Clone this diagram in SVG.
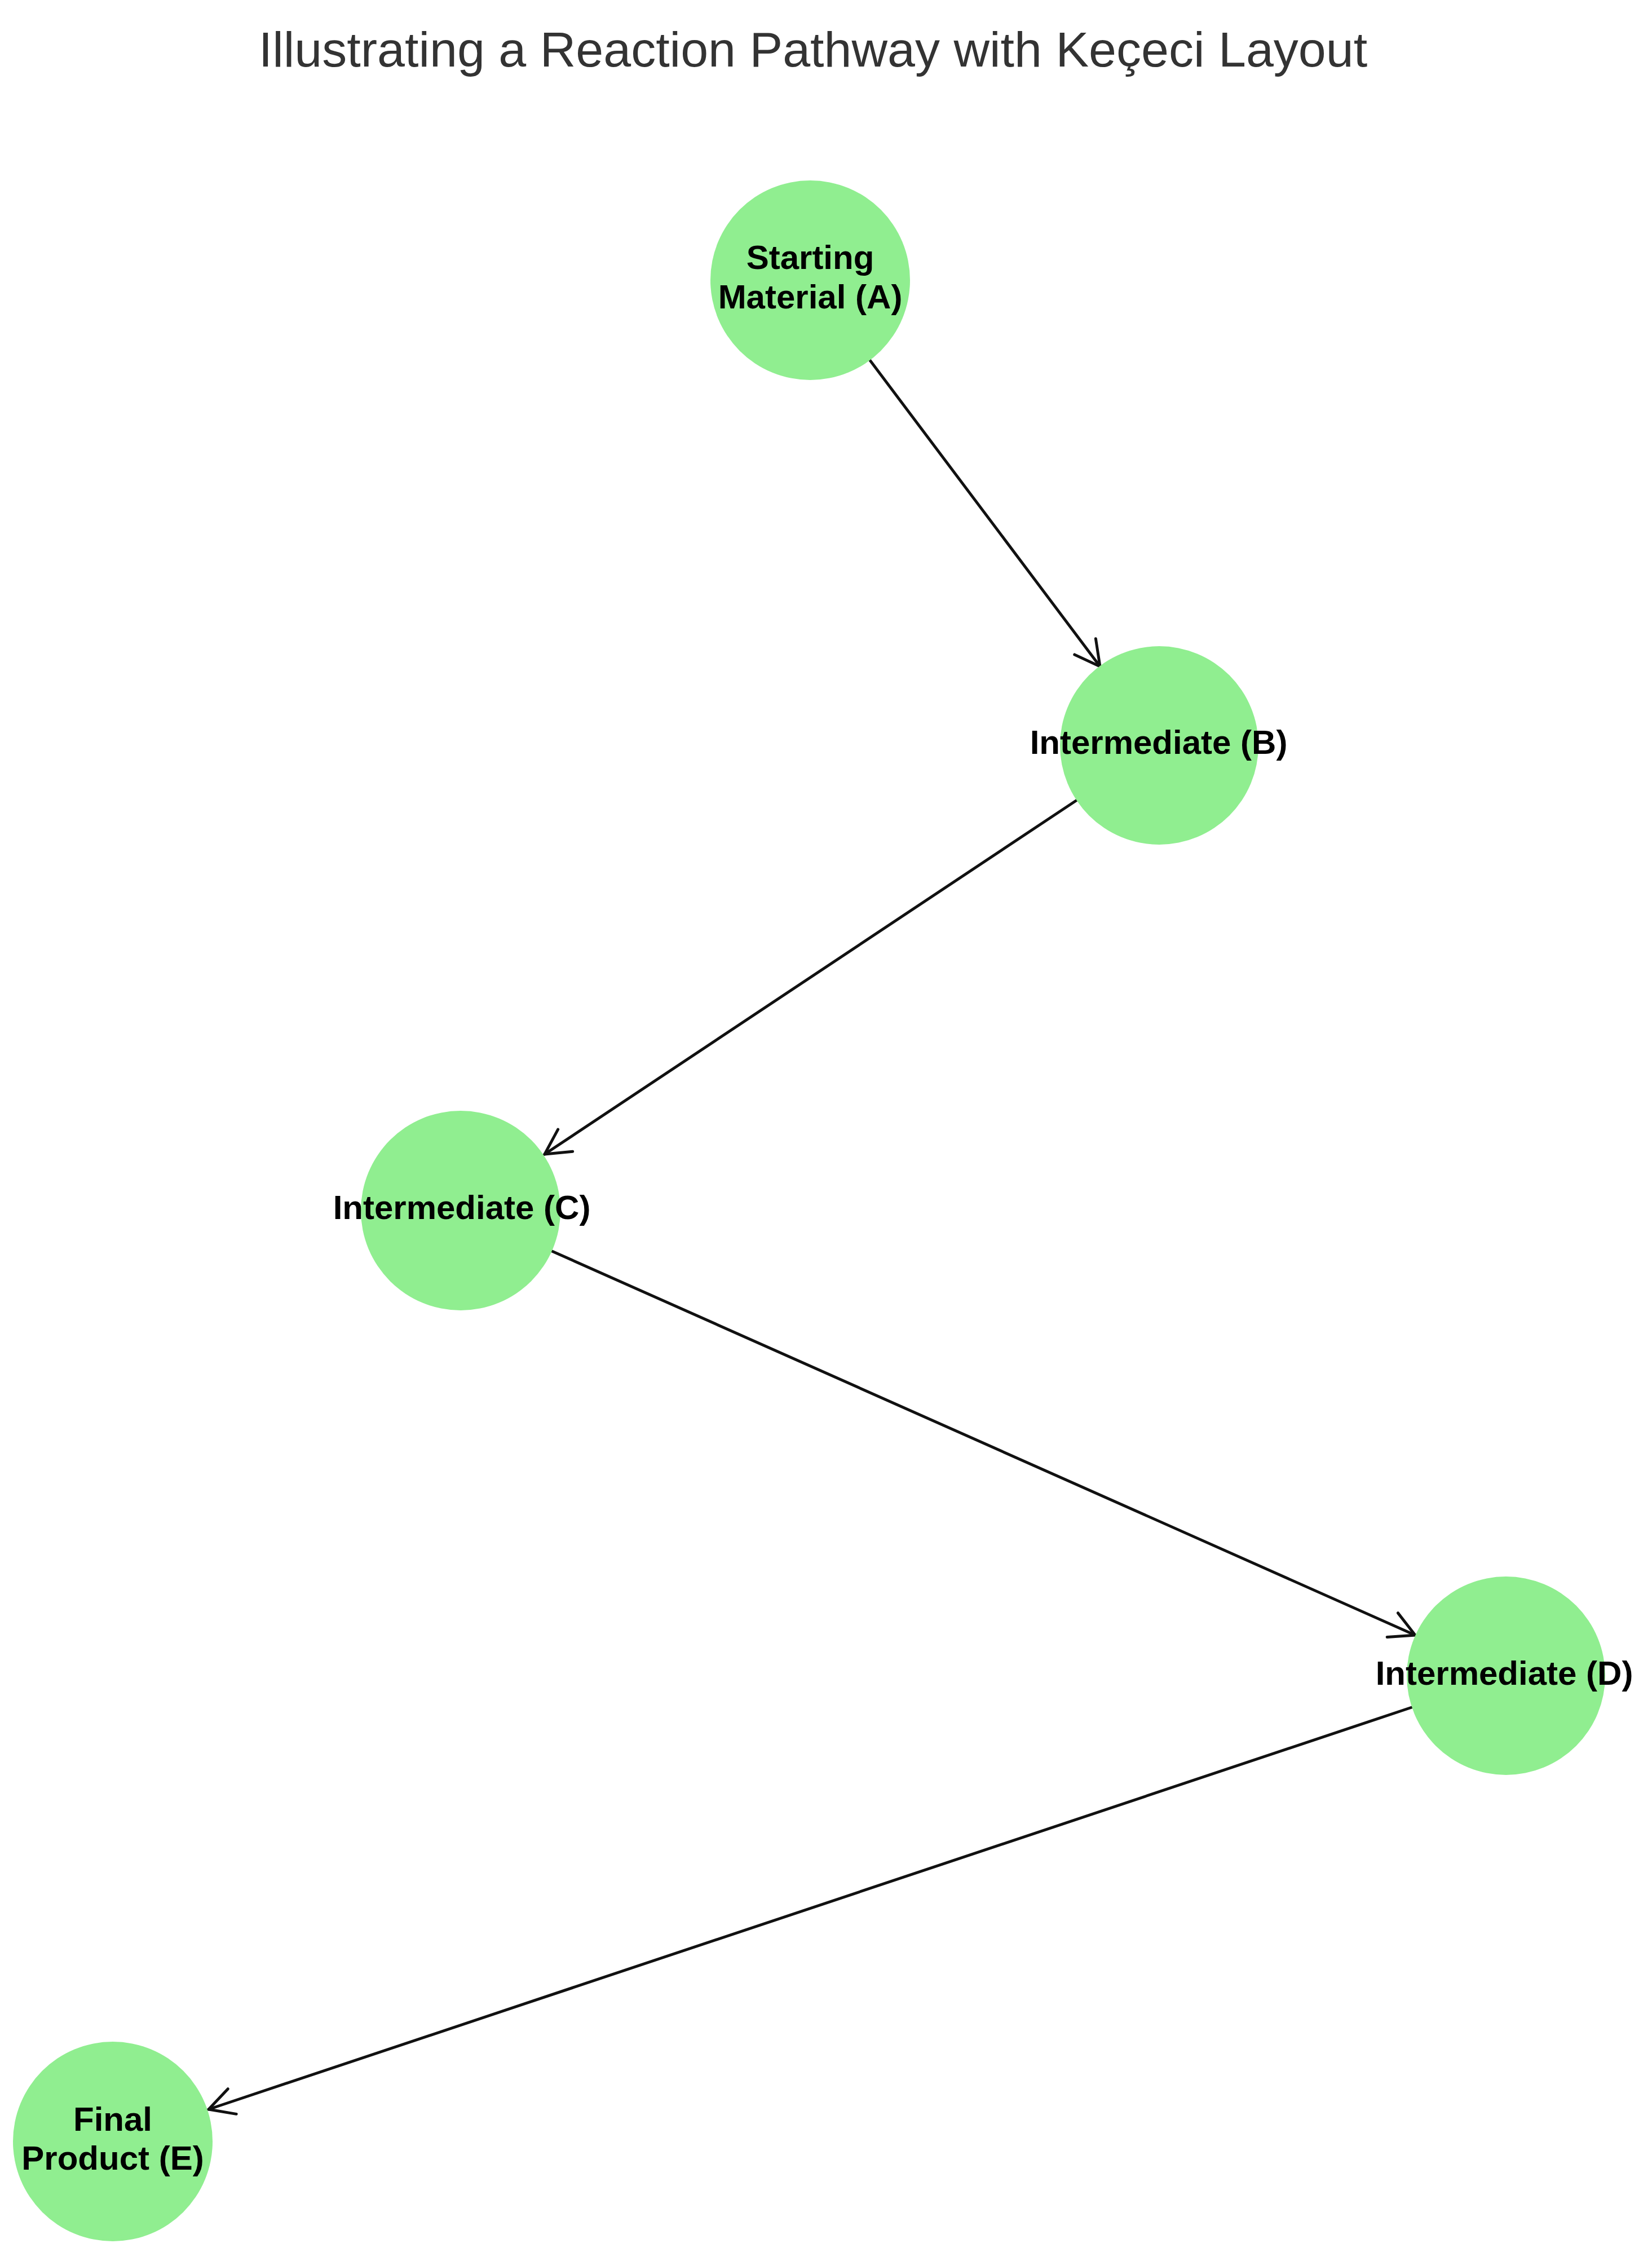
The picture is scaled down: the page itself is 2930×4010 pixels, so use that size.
<svg xmlns="http://www.w3.org/2000/svg" width="2930" height="4010" viewBox="0 0 2930 4010">
  <style>
    .node { fill: #90EE90; }
    .label { font-family: "Liberation Sans", Arial, sans-serif; font-weight: bold; font-size: 60px; fill: #000; text-anchor: middle; }
    .title { font-family: "Liberation Sans", Arial, sans-serif; font-size: 88px; fill: #333333; text-anchor: middle; }
    .edge { stroke: #111; stroke-width: 5; fill: none; stroke-linecap: round; }
  </style>
  <defs>
    <marker id="arrow" markerUnits="userSpaceOnUse" markerWidth="60" markerHeight="60" viewBox="-50 -30 60 60" refX="0" refY="0" orient="auto">
      <path d="M -44,-23.5 L 0,0 L -44,23.5" fill="none" stroke="#111" stroke-width="5" stroke-linecap="round" stroke-linejoin="miter"/>
    </marker>
  </defs>
  <rect width="2930" height="4010" fill="#ffffff"/>
  <text class="title" x="1442" y="118">Illustrating a Reaction Pathway with Keçeci Layout</text>
  <g id="edges">
    <line class="edge" x1="1543" y1="639" x2="1951" y2="1182" marker-end="url(#arrow)"/>
    <line class="edge" x1="1910" y1="1419" x2="966" y2="2047" marker-end="url(#arrow)"/>
    <line class="edge" x1="979" y1="2219" x2="2510" y2="2900" marker-end="url(#arrow)"/>
    <line class="edge" x1="2504" y1="3028" x2="370" y2="3741" marker-end="url(#arrow)"/>
  </g>
  <g id="node-A">
    <circle class="node" cx="1437" cy="497" r="177"/>
    <text class="label" x="1437" y="477">Starting</text>
    <text class="label" x="1437" y="547">Material (A)</text>
  </g>
  <g id="node-B">
    <circle class="node" cx="2056" cy="1322" r="176"/>
    <text class="label" x="2055" y="1337">Intermediate (B)</text>
  </g>
  <g id="node-C">
    <circle class="node" cx="817" cy="2147" r="177"/>
    <text class="label" x="819" y="2162">Intermediate (C)</text>
  </g>
  <g id="node-D">
    <circle class="node" cx="2671" cy="2972" r="176"/>
    <text class="label" x="2668" y="2988">Intermediate (D)</text>
  </g>
  <g id="node-E">
    <circle class="node" cx="200" cy="3798" r="177"/>
    <text class="label" x="200" y="3779">Final</text>
    <text class="label" x="200" y="3848">Product (E)</text>
  </g>
</svg>
